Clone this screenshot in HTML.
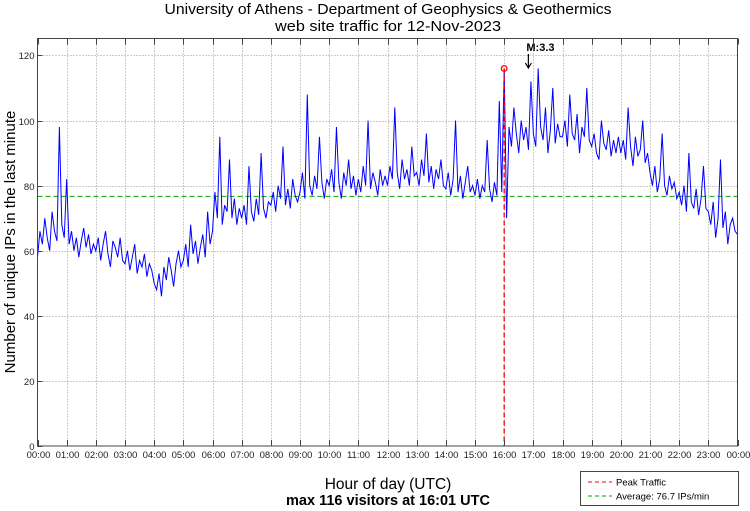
<!DOCTYPE html>
<html><head><meta charset="utf-8"><style>
html,body{margin:0;padding:0;background:#fff;}
svg{display:block;font-family:"Liberation Sans",sans-serif;}
</style></head><body>
<svg id="chart" width="750" height="511" viewBox="0 0 750 511">
<text x="388" y="14" text-anchor="middle" font-size="14.5" textLength="447" lengthAdjust="spacingAndGlyphs">University of Athens - Department of Geophysics &amp; Geothermics</text>
<text x="388" y="31" text-anchor="middle" font-size="14.5" textLength="226" lengthAdjust="spacingAndGlyphs">web site traffic for 12-Nov-2023</text>
<g id="grid"></g>
<g id="series"></g>
<rect x="37.5" y="38.5" width="700" height="407.5" fill="none" stroke="#444" stroke-width="1"/>
<g id="axes"></g>
<text transform="translate(15,242) rotate(-90)" text-anchor="middle" font-size="15">Number of unique IPs in the last minute</text>
<text x="388" y="489" text-anchor="middle" font-size="15.5">Hour of day (UTC)</text>
<text x="388" y="505" text-anchor="middle" font-size="14.5" font-weight="bold">max 116 visitors at 16:01 UTC</text>
<g>
<rect x="580.5" y="471.5" width="158" height="34" fill="#fff" stroke="#444"/>
<line x1="588" y1="482" x2="612" y2="482" stroke="#f00" stroke-dasharray="4,3"/>
<text x="616" y="485.5" font-size="9.5">Peak Traffic</text>
<line x1="588" y1="496" x2="612" y2="496" stroke="#0a0" stroke-dasharray="4,3"/>
<text x="616" y="499.5" font-size="9.5">Average: 76.7 IPs/min</text>
</g>
</svg>
<script>
const yTicks=[0,20,40,60,80,100,120];
const xTickLabels=["00:00","01:00","02:00","03:00","04:00","05:00","06:00","07:00","08:00","09:00","10:00","11:00","12:00","13:00","14:00","15:00","16:00","17:00","18:00","19:00","20:00","21:00","22:00","23:00","00:00"];
const averageValue=76.7;
const peakHour=16.0;
const peakValue=116;
const quakeHour=16.83;
const quakeLabel="M:3.3";
const stepMinutes=5;
const traffic=[
58,66,62,70,64,60,72,66,63,98,68,64,
82,62,66,60,64,58,63,67,61,65,59,62,
60,64,57,62,66,59,55,63,61,58,64,57,
56,60,54,58,62,53,57,55,59,52,56,54,
50,48,53,46,55,51,58,54,49,56,60,55,
57,62,55,68,59,63,56,61,65,58,72,62,
66,78,70,95,68,74,72,88,70,76,68,73,
70,74,68,86,72,69,76,71,90,73,70,75,
74,78,72,80,76,92,74,79,73,82,77,75,
78,84,76,108,80,77,83,79,95,81,76,82,
80,85,78,98,81,76,84,80,88,79,83,77,
82,78,86,80,100,79,84,81,77,85,80,83,
80,86,82,104,84,79,88,82,85,80,92,83,
84,80,88,83,96,81,86,79,85,82,88,80,
79,84,77,82,100,78,83,76,81,86,78,80,
77,82,76,80,78,94,79,75,81,77,106,78,
116,70,98,92,104,96,90,100,94,98,91,112,
96,92,116,98,94,104,90,97,110,93,99,95,
95,100,92,108,96,94,102,90,98,95,110,94,
92,96,90,88,100,93,91,97,89,94,90,95,
90,94,88,104,92,86,95,89,91,100,87,90,
84,80,86,78,82,96,80,77,83,79,81,76,
78,74,80,72,90,75,73,79,71,76,86,73,
72,68,75,64,70,88,67,72,62,68,70,66,65];
const NS="http://www.w3.org/2000/svg";
const X0=37.5,X1=737.5,Y0=446,YMAX=125.2;
function xs(h){return X0+(X1-X0)*h/24;}
function ys(v){return Y0-(Y0-38.5)*v/YMAX;}
function mk(tag,attrs,parent){const e=document.createElementNS(NS,tag);for(const k in attrs)e.setAttribute(k,attrs[k]);parent.appendChild(e);return e;}
const grid=document.getElementById('grid'),axes=document.getElementById('axes'),series=document.getElementById('series');
yTicks.forEach(v=>{const y=Math.round(ys(v))+0.5;
 if(v>0){const g=mk('line',{x1:X0,x2:X1,y1:y,y2:y,stroke:'#999','stroke-dasharray':'1,2'},grid);
 
 }
 const t=mk('line',{x1:X0,x2:X0+5,y1:y,y2:y,stroke:'#444'},axes);
 
 
 const l=mk('text',{x:X0-3,y:y+3.5,'text-anchor':'end','font-size':'9.5',fill:'#222'},axes);l.textContent=v;
 
 
});
xTickLabels.forEach((s,i)=>{const x=Math.round(xs(i))+0.5;
 if(i>0&&i<24){const g=mk('line',{x1:x,x2:x,y1:38.5,y2:Y0,stroke:'#999','stroke-dasharray':'1,2'},grid);
 
 }
 const t1=mk('line',{x1:x,x2:x,y1:Y0,y2:Y0-6,stroke:'#444'},axes);
 
 
 const t2=mk('line',{x1:x,x2:x,y1:38.5,y2:44.5,stroke:'#444'},axes);
 
 
 const l=mk('text',{x:x,y:458,'text-anchor':'middle','font-size':'9.5',fill:'#222'},axes);l.textContent=s;
 
 
});
const avg=mk('line',{x1:X0,x2:X1,y1:ys(averageValue),y2:ys(averageValue),stroke:'#0a0','stroke-dasharray':'5,3'},series);


let d='';traffic.forEach((v,i)=>{d+=(i?'L':'M')+xs(i*stepMinutes/60).toFixed(2)+','+ys(v).toFixed(2);});
const p=mk('path',{d:d,fill:'none',stroke:'#00f','stroke-width':'1'},series);


const pk=mk('line',{x1:xs(peakHour),x2:xs(peakHour),y1:ys(peakValue),y2:Y0,stroke:'#f00','stroke-dasharray':'5,3','stroke-width':'1.3'},series);


const c=mk('circle',{cx:xs(peakHour),cy:ys(peakValue),r:2.8,fill:'none',stroke:'#f00','stroke-width':'1.3'},series);


const qx=xs(quakeHour);
const ar=mk('path',{d:`M${qx},54 L${qx},68 M${qx-3},63 L${qx},68 L${qx+3},63`,fill:'none',stroke:'#000','stroke-width':'1.2'},series);


const ql=mk('text',{x:qx-2,y:51,'font-size':'11','font-weight':'bold'},series);ql.textContent=quakeLabel;


</script>
</body></html>
